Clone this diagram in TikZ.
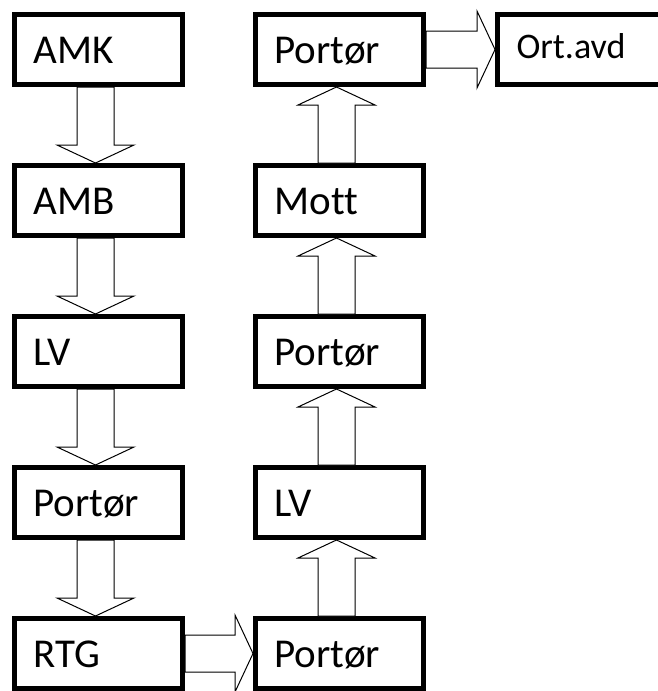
\documentclass[tikz,border=0pt]{standalone}
\usepackage{fontspec}
\setmainfont[Ligatures=NoCommon]{Carlito}
\usetikzlibrary{calc}

% hollow block arrow between two anchors
\newcommand{\bigarrow}[2]{%
  \draw[hollow] let \p1=(#1), \p2=(#2),
      \n1={atan2(\y2-\y1,\x2-\x1)}, \n2={veclen(\x2-\x1,\y2-\y1)} in
    [shift={(\p1)}, rotate=\n1]
    (0,-18.5) -- (\n2-18,-18.5) -- (\n2-18,-38.5) -- (\n2,0)
    -- (\n2-18,38.5) -- (\n2-18,18.5) -- (0,18.5) -- cycle;}

\begin{document}
\begin{tikzpicture}[
    x=1pt, y=-1pt,
    box/.style={draw, rectangle, line width=5pt, minimum width=168pt, minimum height=70pt,
                inner xsep=19pt, inner ysep=0pt, text width=130pt, align=left,
                font=\fontsize{41}{46}\selectfont, text height=27pt, text depth=0pt},
    hollow/.style={draw, fill=white, line width=1pt, line join=miter}
]
    \useasboundingbox (0,0) rectangle (657,691);

    % left column, top to bottom
    \foreach \n/\t [count=\i from 0] in {amk/AMK, amb/AMB, lvA/LV, portA/Portør, rtg/RTG}
        \node[box] (\n) at (98.5, 49.5+\i*151) {\t};
    % right column, bottom to top
    \foreach \n/\t [count=\i from 0] in {portB/Portør, lvB/LV, portC/Portør, mott/Mott, portD/Portør}
        \node[box] (\n) at (339.5, 653.5-\i*151) {\t};
    \node[box, minimum width=200pt, text width=162pt, font=\fontsize{36}{40}\selectfont,
          text height=17pt] (ort) at (597.5, 49.5) {Ort.avd};

    \foreach \a/\b in {amk/amb, amb/lvA, lvA/portA, portA/rtg}
        \bigarrow{$(\a.south)+(-3,0)$}{$(\b.north)+(-3,0)$};
    \foreach \a/\b in {portB/lvB, lvB/portC, portC/mott, mott/portD}
        \bigarrow{$(\a.north)+(-3,0)$}{$(\b.south)+(-3,0)$};
    \bigarrow{rtg.east}{portB.west};
    \bigarrow{portD.east}{ort.west};
\end{tikzpicture}
\end{document}
